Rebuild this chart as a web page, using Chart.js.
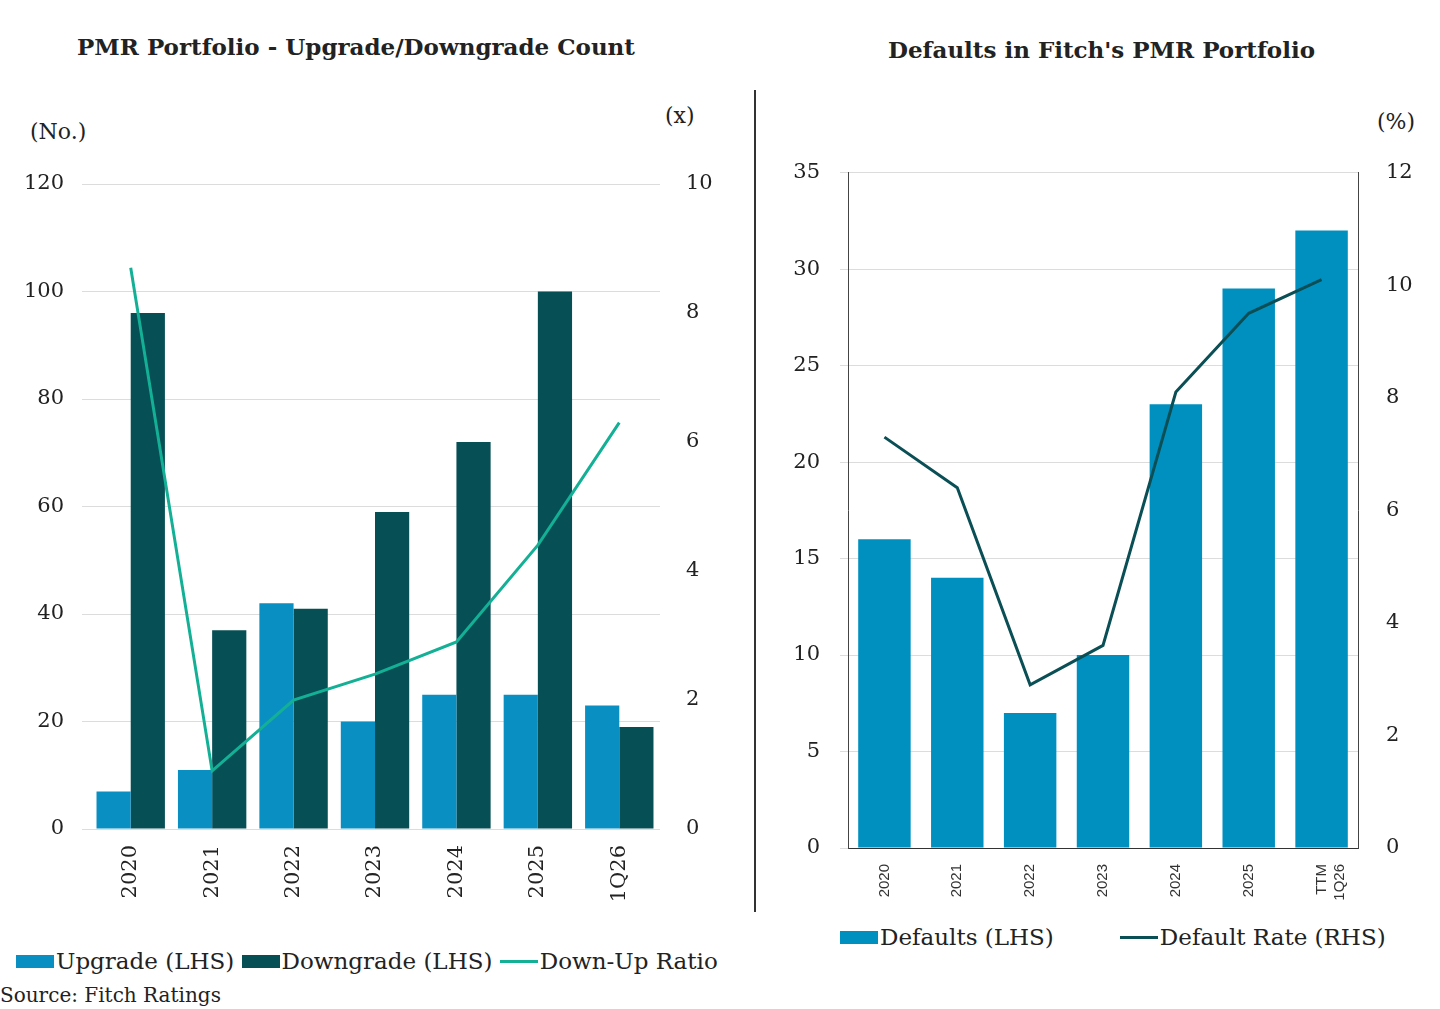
<!DOCTYPE html>
<html><head><meta charset="utf-8">
<script src="https://cdn.jsdelivr.net/npm/chart.js@4"></script>
<style>
body{margin:0;width:1440px;height:1009px;background:#fff;font-family:"DejaVu Serif",serif;color:#222;position:relative;overflow:hidden}
.t{position:absolute;white-space:nowrap}
.h{font-weight:bold;font-size:23px}
.u{font-size:22px}
.lg{font-size:23px;display:flex;align-items:center}
.sw{display:inline-block;width:38px;height:13px;margin-right:2px}
.ln{display:inline-block;width:38px;height:3px;margin-right:2px}
canvas{position:absolute}
</style></head><body>
<div class="t h" style="left:77px;top:33px">PMR Portfolio - Upgrade/Downgrade Count</div>
<div class="t h" style="left:888px;top:36px">Defaults in Fitch's PMR Portfolio</div>
<div class="t u" style="left:30px;top:119px">(No.)</div>
<div class="t u" style="left:665px;top:103px">(x)</div>
<div class="t u" style="left:1377px;top:109px">(%)</div>
<div style="position:absolute;left:754px;top:90px;width:1.5px;height:822px;background:#333"></div>
<canvas id="c1" width="740" height="770" style="left:0;top:150px"></canvas>
<canvas id="c2" width="680" height="780" style="left:760px;top:140px"></canvas>
<div class="t lg" style="left:16px;top:948px"><span class="sw" style="background:#0a8fc2"></span>Upgrade (LHS)&nbsp;<span class="sw" style="background:#064f55"></span>Downgrade (LHS)&nbsp;<span class="ln" style="background:#14b096"></span>Down-Up Ratio</div>
<div class="t lg" style="left:840px;top:924px"><span class="sw" style="background:#0090c0"></span>Defaults (LHS)<span style="width:66px"></span><span class="ln" style="background:#0a4f55"></span>Default Rate (RHS)</div>
<div class="t" style="left:0;top:983px;font-size:20px">Source: Fitch Ratings</div>
<script>
const years = ['2020','2021','2022','2023','2024','2025','1Q26'];
const upgrades = [7, 11, 42, 20, 25, 25, 23];
const downgrades = [96, 37, 41, 59, 72, 100, 19];
const downUpRatio = [8.7, 0.9, 2.0, 2.4, 2.9, 4.4, 6.3];

const defYears = ['2020','2021','2022','2023','2024','2025',['TTM','1Q26']];
const defaults = [16, 14, 7, 10, 23, 29, 32];
const defaultRate = [7.3, 6.4, 2.9, 3.6, 8.1, 9.5, 10.1];

const serif = {family: 'DejaVu Serif', size: 21};
Chart.defaults.color = '#222';
Chart.defaults.animation = false;

function fix(w, h) {
  return function (axis) { if (w != null) axis.width = w; if (h != null) axis.height = h; };
}

new Chart(document.getElementById('c1'), {
  data: {
    labels: years,
    datasets: [
      {type: 'line', data: downUpRatio, yAxisID: 'y1', borderColor: '#14b096', borderWidth: 3, pointRadius: 0, tension: 0},
      {type: 'bar', data: upgrades, yAxisID: 'y', backgroundColor: '#0a8fc2', categoryPercentage: 0.84, barPercentage: 1},
      {type: 'bar', data: downgrades, yAxisID: 'y', backgroundColor: '#064f55', categoryPercentage: 0.84, barPercentage: 1}
    ]
  },
  options: {
    responsive: false, devicePixelRatio: 1,
    layout: {padding: {top: 34}},
    plugins: {legend: {display: false}, tooltip: {enabled: false}},
    scales: {
      x: {grid: {display: false}, border: {display: false}, ticks: {font: serif, minRotation: 90, maxRotation: 90, padding: 8}, afterFit: fix(null, 91)},
      y: {min: 0, max: 120, ticks: {stepSize: 20, font: serif, padding: 18}, grid: {color: '#dcdcdc'}, border: {display: false}, afterFit: fix(90, null)},
      y1: {position: 'right', min: 0, max: 10, ticks: {stepSize: 2, font: serif, padding: 18}, grid: {display: false}, border: {display: false}, afterFit: fix(80, null)}
    }
  }
});

new Chart(document.getElementById('c2'), {
  data: {
    labels: defYears,
    datasets: [
      {type: 'line', data: defaultRate, yAxisID: 'y1', borderColor: '#0a4f55', borderWidth: 3, pointRadius: 0, tension: 0},
      {type: 'bar', data: defaults, yAxisID: 'y', backgroundColor: '#0090c0', categoryPercentage: 0.72, barPercentage: 1}
    ]
  },
  options: {
    responsive: false, devicePixelRatio: 1,
    layout: {padding: {top: 20}},
    plugins: {legend: {display: false}, tooltip: {enabled: false}},
    scales: {
      x: {grid: {display: false}, border: {color: '#333'}, ticks: {font: {family: 'Liberation Sans', size: 15}, color: '#333', minRotation: 90, maxRotation: 90, padding: 8}, afterFit: fix(null, 72)},
      y: {min: 0, max: 35, ticks: {stepSize: 5, font: serif, padding: 20}, grid: {color: '#dcdcdc'}, border: {color: '#444'}, afterFit: fix(88, null)},
      y1: {position: 'right', min: 0, max: 12, ticks: {stepSize: 2, font: serif, padding: 20}, grid: {display: false}, border: {color: '#444'}, afterFit: fix(82, null)}
    }
  }
});
</script>
</body></html>
